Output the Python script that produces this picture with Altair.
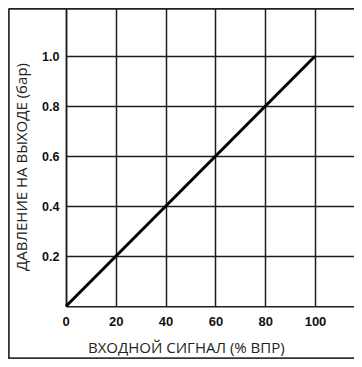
import altair as alt
import pandas as pd

signal = [0, 100]
pressure = [0.0, 1.0]
x_ticks = [0, 20, 40, 60, 80, 100]
y_ticks = [0.2, 0.4, 0.6, 0.8, 1.0]

df = pd.DataFrame({"signal": signal, "pressure": pressure})

W = 288.0
H = 298.3
XMAX = W / 2.49
GRID = "#1e1e1e"
TITLE_FONT = "Open Sans"

base = alt.Chart(df)

line = base.mark_line(color="black", strokeWidth=3).encode(
    x=alt.X(
        "signal:Q",
        scale=alt.Scale(domain=[0, XMAX], nice=False),
        axis=alt.Axis(
            values=x_ticks,
            format="d",
            title="ВХОДНОЙ СИГНАЛ (% ВПР)",
            titleFont=TITLE_FONT,
            titleFontSize=15,
            titleFontWeight="normal",
            titleColor="#222",
            titleX=119.8,
            titleY=46,
            titleAlign="center",
            titleBaseline="alphabetic",
            titleAnchor="start",
            labelFont="Liberation Sans",
            labelFontWeight="bold",
            labelFontSize=13,
            labelColor="#111",
            labelPadding=9,
            labelOffset={"condition": {"test": "datum.value === 0", "value": -4}, "value": 0},
            ticks=False,
            grid=True,
            gridColor=GRID,
            gridWidth=1.5,
            gridOpacity=1,
            domainColor=GRID,
            domainWidth=1.5,
        ),
    ),
    y=alt.Y(
        "pressure:Q",
        scale=alt.Scale(domain=[0, H / 250.0], nice=False),
        axis=alt.Axis(
            values=y_ticks,
            format=".1f",
            title="ДАВЛЕНИЕ НА ВЫХОДЕ (бар)",
            titleFont=TITLE_FONT,
            titleFontSize=15,
            titleFontWeight="normal",
            titleColor="#222",
            titleAngle=270,
            titleX=-39.3,
            titleY=158.5,
            titleAlign="center",
            titleBaseline="alphabetic",
            labelFont="Liberation Sans",
            labelFontWeight="bold",
            labelFontSize=12.5,
            labelColor="#111",
            labelPadding=7,
            ticks=False,
            grid=True,
            gridColor=GRID,
            gridWidth=1.5,
            gridOpacity=1,
            domainColor=GRID,
            domainWidth=1.5,
        ),
    ),
)

frame_left = base.mark_rule(color="#333", strokeWidth=1.5).encode(
    x=alt.value(-57.2), y=alt.value(0.8), y2=alt.value(351.5)
)
frame_top = base.mark_rule(color="#222", strokeWidth=1.5).encode(
    x=alt.value(-57.2), x2=alt.value(W), y=alt.value(0.8)
)
frame_bottom = base.mark_rule(color="#333", strokeWidth=1.5).encode(
    x=alt.value(-57.2), x2=alt.value(W), y=alt.value(350.2)
)

chart = (
    alt.layer(line, frame_left, frame_top, frame_bottom)
    .properties(
        width=W,
        height=H,
        autosize=alt.AutoSizeParams(type="none"),
        padding={"left": 58, "top": 0, "right": 0, "bottom": 52.7},
        background="white",
    )
    .configure_view(strokeWidth=0)
)

chart.save("out.html", embed_options={"renderer": "svg", "actions": False})
